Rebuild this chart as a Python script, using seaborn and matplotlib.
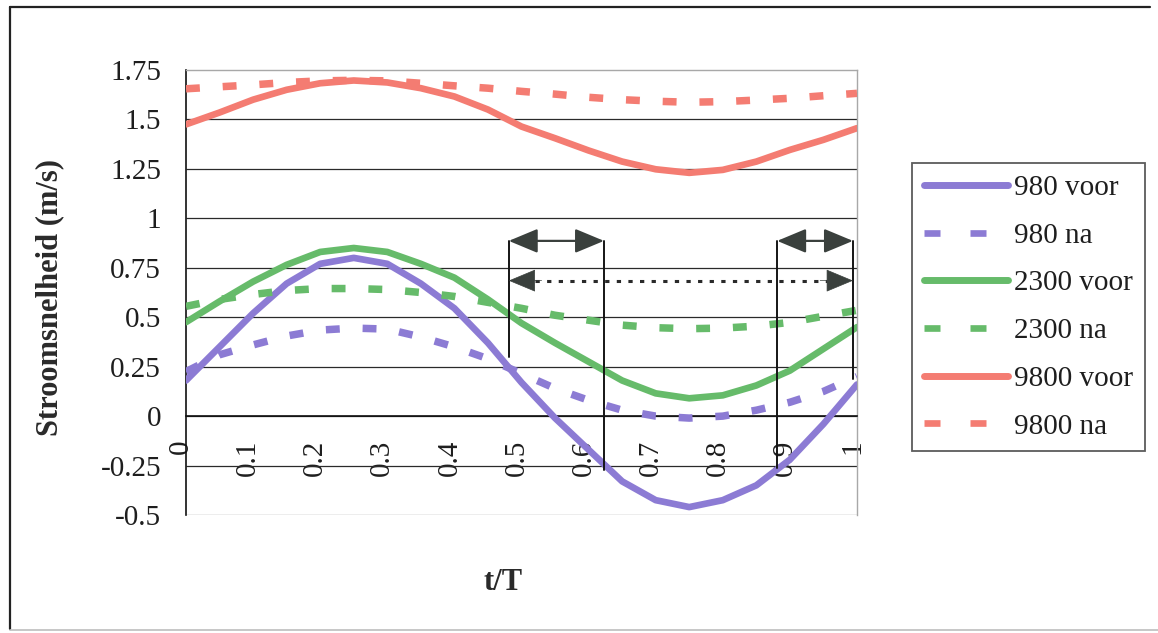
import matplotlib
matplotlib.use("Agg")
import matplotlib.pyplot as plt
import matplotlib.transforms as mtransforms
from matplotlib.lines import Line2D
import pandas as pd
import seaborn as sns

# ---- data -------------------------------------------------------------
t_over_T = [0.00, 0.05, 0.10, 0.15, 0.20, 0.25, 0.30, 0.35, 0.40, 0.45, 0.50,
            0.55, 0.60, 0.65, 0.70, 0.75, 0.80, 0.85, 0.90, 0.95, 1.00]

v_980_voor = [0.18, 0.35, 0.52, 0.67, 0.77, 0.80, 0.77, 0.67, 0.545, 0.37, 0.17,
              -0.01, -0.17, -0.33, -0.425, -0.46, -0.425, -0.35, -0.22, -0.04, 0.16]
v_980_na = [0.225, 0.31, 0.36, 0.405, 0.435, 0.445, 0.44, 0.40, 0.35, 0.29, 0.215,
            0.14, 0.08, 0.03, 0.00, -0.01, 0.00, 0.03, 0.07, 0.125, 0.20]
v_2300_voor = [0.475, 0.58, 0.68, 0.765, 0.83, 0.85, 0.83, 0.77, 0.70, 0.59, 0.47,
               0.37, 0.275, 0.18, 0.115, 0.09, 0.105, 0.155, 0.23, 0.34, 0.45]
v_2300_na = [0.555, 0.59, 0.615, 0.635, 0.645, 0.645, 0.64, 0.625, 0.605, 0.575, 0.545,
             0.51, 0.485, 0.46, 0.447, 0.442, 0.445, 0.455, 0.474, 0.505, 0.535]
v_9800_voor = [1.475, 1.535, 1.60, 1.65, 1.683, 1.697, 1.687, 1.658, 1.616, 1.55, 1.464,
               1.405, 1.343, 1.287, 1.248, 1.23, 1.245, 1.287, 1.346, 1.397, 1.456]
v_9800_na = [1.655, 1.665, 1.675, 1.687, 1.695, 1.698, 1.695, 1.683, 1.67, 1.658, 1.642,
             1.628, 1.612, 1.60, 1.592, 1.587, 1.59, 1.598, 1.607, 1.62, 1.632]

series_names = ["980 voor", "980 na", "2300 voor", "2300 na", "9800 voor", "9800 na"]
series_values = [v_980_voor, v_980_na, v_2300_voor, v_2300_na, v_9800_voor, v_9800_na]

x_tick_values = [0.0, 0.1, 0.2, 0.3, 0.4, 0.5, 0.6, 0.7, 0.8, 0.9, 1.0]
x_tick_labels = ["0", "0.1", "0.2", "0.3", "0.4", "0.5", "0.6", "0.7", "0.8", "0.9", "1"]
y_tick_values = [1.75, 1.5, 1.25, 1.0, 0.75, 0.5, 0.25, 0.0, -0.25, -0.5]
y_tick_labels = ["1.75", "1.5", "1.25", "1", "0.75", "0.5", "0.25", "0", "-0.25", "-0.5"]

# ---- styling ----------------------------------------------------------
sns.set_style("white")
plt.rcParams["font.family"] = ["Liberation Serif", "DejaVu Serif"]
plt.rcParams["text.color"] = "#1e1e1e"
plt.rcParams["xtick.color"] = "#1e1e1e"
plt.rcParams["ytick.color"] = "#1e1e1e"

PURPLE = "#8c7bd4"
GREEN = "#66bb6a"
RED = "#f47c72"
series_colors = [PURPLE, PURPLE, GREEN, GREEN, RED, RED]
series_dashed = [False, True, False, True, False, True]

FS = 21
DPI = 100
W, H = 1158, 633

fig = plt.figure(figsize=(W / DPI, H / DPI), dpi=DPI)
fig.patch.set_facecolor("white")
ax = fig.add_axes([186 / W, 1 - 515 / H, 671 / W, 445 / H])

# horizontal grid (interior lines only; the outer ones are the plot frame)
ax.hlines(y_tick_values[1:-1], 0, 1, colors="#2a2a2a", linewidth=0.9, zorder=1)
ax.axhline(-0.5, color="#a8a8a8", linewidth=1.0, zorder=1)

df = pd.DataFrame({"t": t_over_T * len(series_names),
                   "v": sum(series_values, []),
                   "serie": [n for n in series_names for _ in t_over_T]})

for name, color, dashed in zip(series_names, series_colors, series_dashed):
    sub = df[df["serie"] == name]
    if dashed:
        sns.lineplot(data=sub, x="t", y="v", ax=ax, color=color, linewidth=5.4,
                     linestyle=(0, (1.85, 3.05)), dash_capstyle="butt",
                     estimator=None, sort=False, legend=False, zorder=3)
    else:
        sns.lineplot(data=sub, x="t", y="v", ax=ax, color=color, linewidth=4.8,
                     solid_capstyle="round", solid_joinstyle="round",
                     estimator=None, sort=False, legend=False, zorder=3)

ax.set_xlim(0, 1)
ax.set_ylim(-0.5, 1.75)
ax.set_xlabel("")
ax.set_ylabel("")

# axes frame
ax.spines["left"].set_color("#111111")
ax.spines["left"].set_linewidth(1.2)
ax.spines["bottom"].set_position(("data", 0))
ax.spines["bottom"].set_color("#111111")
ax.spines["bottom"].set_linewidth(1.2)
for side in ("top", "right"):
    ax.spines[side].set_color("#a8a8a8")
    ax.spines[side].set_linewidth(1.0)

# ticks
ax.set_yticks(y_tick_values)
ax.set_yticklabels(y_tick_labels, fontsize=FS)
ax.tick_params(axis="y", direction="out", length=8, width=1.1, pad=10)

ax.set_xticks(x_tick_values)
ax.set_xticks([0.05, 0.15, 0.25, 0.35, 0.45, 0.55, 0.65, 0.75, 0.85, 0.95], minor=True)
ax.set_xticklabels(x_tick_labels, fontsize=FS, rotation=90, va="top", ha="center")
ax.tick_params(axis="x", which="both", direction="in", length=8, width=1.1, pad=17)
shift = mtransforms.ScaledTranslation(-5 / DPI, 0, fig.dpi_scale_trans)
for lab in ax.get_xticklabels():
    lab.set_transform(lab.get_transform() + shift)

# ---- phase annotations ------------------------------------------------
ARROW_DARK = "#3a403d"
vline_kw = dict(color="#151515", linewidth=1.4, zorder=5)
ax.plot([0.481, 0.481], [0.30, 0.886], **vline_kw)
ax.plot([0.623, 0.623], [-0.27, 0.886], **vline_kw)
ax.plot([0.881, 0.881], [-0.26, 0.886], **vline_kw)
ax.plot([0.994, 0.994], [0.19, 0.886], **vline_kw)

head = "<|-|>,head_length=18,head_width=7.5"
solid_arrow = dict(arrowstyle=head, mutation_scale=1, color=ARROW_DARK,
                   linewidth=1.6, shrinkA=0, shrinkB=0)
ax.annotate("", xy=(0.623, 0.886), xytext=(0.481, 0.886),
            arrowprops=solid_arrow, zorder=6)
ax.annotate("", xy=(0.994, 0.886), xytext=(0.881, 0.886),
            arrowprops=solid_arrow, zorder=6)
# dotted span with solid heads
ax.plot([0.52, 0.955], [0.685, 0.685], color="#2a2a2a", linewidth=2.2,
        linestyle=(0, (1.4, 2.4)), dash_capstyle="butt", zorder=5)
head_only = dict(arrowstyle="-|>,head_length=18,head_width=7.5", mutation_scale=1,
                 color=ARROW_DARK, linewidth=0.5, shrinkA=0, shrinkB=0)
ax.annotate("", xy=(0.481, 0.685), xytext=(0.53, 0.685), arrowprops=head_only, zorder=6)
ax.annotate("", xy=(0.994, 0.685), xytext=(0.945, 0.685), arrowprops=head_only, zorder=6)

# ---- legend -----------------------------------------------------------
handles = []
for color, dashed in zip(series_colors, series_dashed):
    if dashed:
        handles.append(Line2D([], [], color=color, linewidth=4.8,
                              linestyle=(0, (2.4, 4.5)), dash_capstyle="butt"))
    else:
        handles.append(Line2D([], [], color=color, linewidth=5.0,
                              solid_capstyle="round"))
leg = fig.legend(handles, series_names, loc="upper left",
                 bbox_to_anchor=(912 / W, 1 - 163 / H), bbox_transform=fig.transFigure,
                 fontsize=FS, frameon=True, fancybox=False, shadow=False,
                 borderaxespad=0, borderpad=0.4, handlelength=2.9, handletextpad=0.2,
                 labelspacing=0.73)
leg.get_frame().set_edgecolor("#333333")
leg.get_frame().set_linewidth(1.3)

# ---- axis titles ------------------------------------------------------
fig.text(50 / W, 1 - 297 / H, "Stroomsnelheid (m/s)", rotation=90, ha="center",
         va="center", fontsize=22, fontweight="bold", color="#2a2a2a")
fig.text(503 / W, 1 - 582 / H, "t/T", ha="center", va="center",
         fontsize=22, fontweight="bold", color="#2a2a2a")

# ---- outer chart frame ------------------------------------------------
fig.add_artist(Line2D([10 / W, 10 / W], [1 - 629 / H, 1 - 7 / H],
                      transform=fig.transFigure, color="#222222", linewidth=1.6))
fig.add_artist(Line2D([10 / W, 1150 / W], [1 - 7 / H, 1 - 7 / H],
                      transform=fig.transFigure, color="#222222", linewidth=1.6))
fig.add_artist(Line2D([10 / W, 1158 / W], [1 - 630 / H, 1 - 630 / H],
                      transform=fig.transFigure, color="#bdbdbd", linewidth=1.2))

fig.savefig("out.png", dpi=DPI, facecolor="white")
